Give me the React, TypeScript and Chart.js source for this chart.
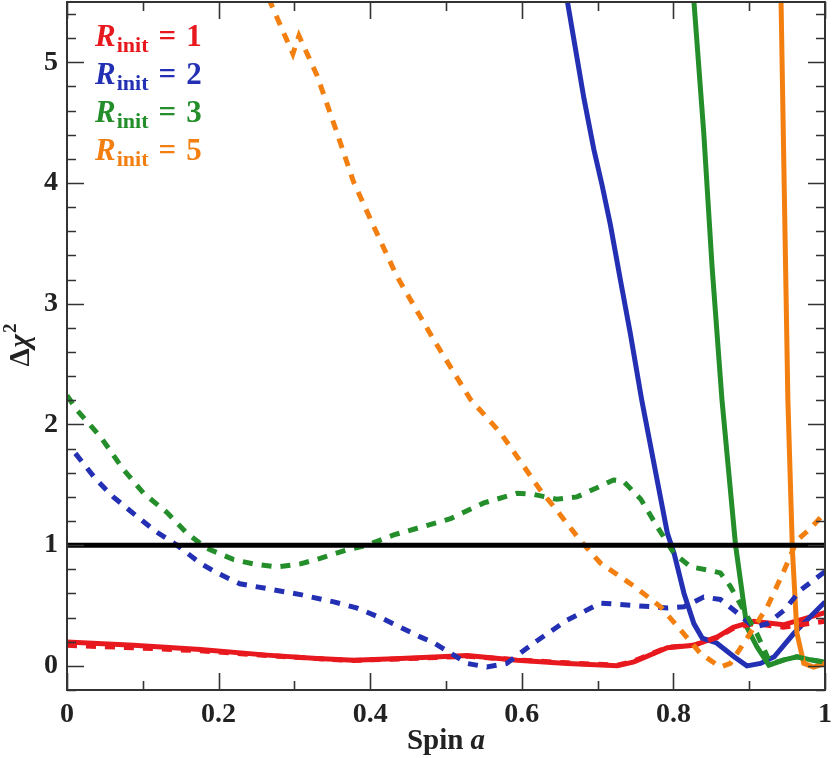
import React, { useEffect, useRef } from "react";
import { Chart, registerables } from "chart.js";

Chart.register(...registerables);

// ---- data ----
const X_TICKS = [0, 0.2, 0.4, 0.6, 0.8, 1];
const Y_TICKS = [0, 1, 2, 3, 4, 5];

const REF_X = [0, 1];
const REF_Y = [1, 1];

const R1_SOLID_X = [0, 0.088, 0.176, 0.264, 0.33, 0.378, 0.44, 0.528, 0.594, 0.66, 0.726, 0.748, 0.792, 0.827, 0.858, 0.879, 0.906, 0.945, 1.0];
const R1_SOLID_Y = [0.197, 0.17, 0.136, 0.089, 0.061, 0.047, 0.061, 0.085, 0.047, 0.02, 0.0, 0.033, 0.15, 0.17, 0.24, 0.32, 0.37, 0.34, 0.44];
const R1_DASH_X = [0, 0.088, 0.176, 0.264, 0.33, 0.378, 0.44, 0.528, 0.594, 0.66, 0.726, 0.748, 0.792, 0.827, 0.858, 0.879, 0.906, 0.945, 1.0];
const R1_DASH_Y = [0.17, 0.15, 0.125, 0.085, 0.06, 0.045, 0.058, 0.08, 0.05, 0.025, 0.005, 0.04, 0.155, 0.17, 0.235, 0.31, 0.35, 0.32, 0.37];

const R2_SOLID_X = [0.66, 0.682, 0.695, 0.706, 0.717, 0.73, 0.743, 0.758, 0.792, 0.801, 0.814, 0.827, 0.838, 0.857, 0.88, 0.897, 0.915, 0.933, 0.959, 1.0];
const R2_SOLID_Y = [5.51, 4.7, 4.28, 3.98, 3.65, 3.2, 2.76, 2.21, 1.1, 0.93, 0.6, 0.35, 0.23, 0.19, 0.075, 0.0, 0.02, 0.075, 0.27, 0.53];
const R2_DASH_X = [0.011, 0.039, 0.061, 0.092, 0.118, 0.145, 0.176, 0.198, 0.228, 0.264, 0.308, 0.352, 0.382, 0.417, 0.466, 0.484, 0.528, 0.554, 0.58, 0.616, 0.66, 0.704, 0.748, 0.792, 0.814, 0.84, 0.862, 0.884, 0.906, 0.924, 0.946, 0.968, 1.0];
const R2_DASH_Y = [1.76, 1.54, 1.4, 1.24, 1.11, 1.0, 0.85, 0.77, 0.68, 0.64, 0.59, 0.53, 0.48, 0.39, 0.24, 0.19, 0.02, -0.01, 0.02, 0.19, 0.38, 0.52, 0.5, 0.48, 0.49, 0.57, 0.55, 0.44, 0.32, 0.35, 0.46, 0.63, 0.78];

const R3_SOLID_X = [0.827, 0.84, 0.851, 0.864, 0.882, 0.897, 0.91, 0.926, 0.946, 0.963, 0.981, 1.0];
const R3_SOLID_Y = [5.51, 4.42, 3.31, 2.21, 1.0, 0.32, 0.16, 0.006, 0.05, 0.075, 0.05, 0.03];
const R3_DASH_X = [0, 0.013, 0.044, 0.074, 0.101, 0.132, 0.158, 0.184, 0.22, 0.246, 0.277, 0.308, 0.334, 0.369, 0.396, 0.431, 0.462, 0.506, 0.55, 0.594, 0.616, 0.646, 0.673, 0.704, 0.721, 0.734, 0.757, 0.779, 0.801, 0.823, 0.849, 0.862, 0.875, 0.893, 0.91, 0.924, 0.93, 0.946, 0.963, 0.981, 1.0];
const R3_DASH_Y = [2.24, 2.12, 1.9, 1.63, 1.43, 1.27, 1.1, 0.975, 0.88, 0.845, 0.82, 0.845, 0.89, 0.96, 1.0, 1.085, 1.14, 1.22, 1.35, 1.43, 1.42, 1.38, 1.4, 1.49, 1.54, 1.53, 1.38, 1.15, 0.93, 0.82, 0.79, 0.77, 0.66, 0.46, 0.27, 0.075, 0.02, 0.05, 0.075, 0.05, 0.03];

const R5_SOLID_X = [0.942, 0.951, 0.957, 0.963, 0.972, 0.985, 1.0];
const R5_SOLID_Y = [5.51, 2.21, 0.96, 0.27, 0.02, -0.01, 0.02];
const R5_DASH_X = [0.266, 0.298, 0.306, 0.33, 0.356, 0.378, 0.404, 0.435, 0.484, 0.532, 0.572, 0.624, 0.646, 0.677, 0.704, 0.748, 0.783, 0.809, 0.836, 0.862, 0.875, 0.893, 0.924, 0.946, 0.963, 0.981, 1.0];
const R5_DASH_Y = [5.53, 5.07, 5.22, 4.89, 4.42, 4.01, 3.65, 3.23, 2.7, 2.21, 1.93, 1.46, 1.29, 1.04, 0.85, 0.66, 0.49, 0.3, 0.1, -0.01, 0.02, 0.19, 0.49, 0.79, 1.04, 1.14, 1.27];

const LEGEND_LABELS = ["1", "2", "3", "5"];

const RED = "#e8191e";
const BLUE = "#2330b4";
const GREEN = "#238e2a";
const ORANGE = "#f27f10";
const LEGEND_COLORS = [RED, BLUE, GREEN, ORANGE];

const SERIF = '"Liberation Serif", "DejaVu Serif", serif';

function pts(xs: number[], ys: number[]) {
  return xs.map((x, i) => ({ x, y: ys[i] }));
}

const framePlugin = {
  id: "framePlugin",
  afterDraw(chart: any) {
    const { ctx, chartArea } = chart;
    const xs = chart.scales.x;
    const ys = chart.scales.y;
    const { left, right, top, bottom } = chartArea;
    ctx.save();
    ctx.strokeStyle = "#333";
    ctx.lineWidth = 1.6;
    const major = 17;
    const minor = 9;
    ctx.beginPath();
    for (let i = 0; i <= 10; i++) {
      const v = i / 10;
      const px = Math.round(xs.getPixelForValue(v)) + 0.5;
      const len = i % 2 === 0 ? major : minor;
      ctx.moveTo(px, bottom);
      ctx.lineTo(px, bottom - len);
      ctx.moveTo(px, top);
      ctx.lineTo(px, top + len);
    }
    for (let i = -1; i <= 27; i++) {
      const v = i / 5;
      if (v < ys.min || v > ys.max) continue;
      const py = Math.round(ys.getPixelForValue(v)) + 0.5;
      const len = i % 5 === 0 ? major : minor;
      ctx.moveTo(left, py);
      ctx.lineTo(left + len, py);
      ctx.moveTo(right, py);
      ctx.lineTo(right - len, py);
    }
    ctx.stroke();
    ctx.lineWidth = 2;
    ctx.strokeRect(left, top, right - left, bottom - top);

    // legend
    LEGEND_LABELS.forEach((lab, i) => {
      const bx = 95;
      const by = 46 + i * 38;
      ctx.fillStyle = LEGEND_COLORS[i];
      ctx.textBaseline = "alphabetic";
      ctx.textAlign = "left";
      ctx.font = `italic bold 31px ${SERIF}`;
      ctx.fillText("R", bx, by);
      let x = bx + ctx.measureText("R").width + 1;
      ctx.font = `bold 22px ${SERIF}`;
      ctx.fillText("init", x, by + 6);
      x += ctx.measureText("init").width + 10;
      ctx.font = `bold 31px ${SERIF}`;
      ctx.fillText("=", x, by);
      x += ctx.measureText("=").width + 10;
      ctx.fillText(lab, x, by);
    });

    // x title
    ctx.fillStyle = "#222";
    ctx.font = `bold 29px ${SERIF}`;
    const t1 = "Spin ";
    const w1 = ctx.measureText(t1).width;
    ctx.font = `italic bold 29px ${SERIF}`;
    const w2 = ctx.measureText("a").width;
    const cx = (left + right) / 2;
    const sx = cx - (w1 + w2) / 2;
    ctx.font = `bold 29px ${SERIF}`;
    ctx.fillText(t1, sx, 749);
    ctx.font = `italic bold 29px ${SERIF}`;
    ctx.fillText("a", sx + w1, 749);

    // y title
    ctx.translate(29, (top + bottom) / 2);
    ctx.rotate(-Math.PI / 2);
    ctx.font = `bold 29px ${SERIF}`;
    const d = "\u0394";
    const wd = ctx.measureText(d).width;
    ctx.font = `italic bold 29px ${SERIF}`;
    const wc = ctx.measureText("\u03C7").width;
    ctx.font = `bold 19px ${SERIF}`;
    const ws = ctx.measureText("2").width;
    const yx = -(wd + wc + ws) / 2;
    ctx.font = `bold 29px ${SERIF}`;
    ctx.fillText(d, yx, 0);
    ctx.font = `italic bold 29px ${SERIF}`;
    ctx.fillText("\u03C7", yx + wd + 1, 0);
    ctx.font = `bold 19px ${SERIF}`;
    ctx.fillText("2", yx + wd + wc + 2, -13);
    ctx.restore();
  },
};

function line(data: any[], color: string, dashed: boolean, width = 5) {
  return {
    data,
    borderColor: color,
    backgroundColor: color,
    borderWidth: width,
    borderDash: dashed ? [10, 9] : [],
    borderCapStyle: "butt",
    showLine: true,
    pointRadius: 0,
    fill: false,
    tension: 0,
  };
}

export default function App() {
  const ref = useRef<HTMLCanvasElement | null>(null);
  useEffect(() => {
    if (!ref.current) return;
    const chart = new Chart(ref.current, {
      type: "scatter",
      data: {
        datasets: [
          line(pts(REF_X, REF_Y), "#000", false, 5),
          line(pts(R5_DASH_X, R5_DASH_Y), ORANGE, true),
          line(pts(R3_DASH_X, R3_DASH_Y), GREEN, true),
          line(pts(R2_DASH_X, R2_DASH_Y), BLUE, true),
          line(pts(R1_DASH_X, R1_DASH_Y), RED, true),
          line(pts(R5_SOLID_X, R5_SOLID_Y), ORANGE, false),
          line(pts(R3_SOLID_X, R3_SOLID_Y), GREEN, false),
          line(pts(R2_SOLID_X, R2_SOLID_Y), BLUE, false),
          line(pts(R1_SOLID_X, R1_SOLID_Y), RED, false),
        ] as any,
      },
      options: {
        animation: false,
        responsive: false,
        layout: { padding: { top: 2, right: 7, left: 0, bottom: 0 } },
        plugins: { legend: { display: false }, tooltip: { enabled: false } },
        scales: {
          x: {
            type: "linear",
            min: 0,
            max: 1,
            afterFit: (s: any) => {
              s.height = 68;
              s.paddingLeft = 0;
              s.paddingRight = 0;
              s.paddingTop = 0;
              s.paddingBottom = 0;
            },
            afterBuildTicks: (s: any) => {
              s.ticks = X_TICKS.map((v) => ({ value: v }));
            },
            grid: { display: false, drawTicks: false },
            border: { display: false },
            ticks: {
              padding: 8,
              color: "#222",
              font: { family: SERIF, size: 28, weight: "bold" },
              callback: (v: any) => {
                const n = Number(v);
                return n === 0 || n === 1 ? String(n) : n.toFixed(1);
              },
            },
          },
          y: {
            type: "linear",
            min: -0.2,
            max: 5.5,
            afterFit: (s: any) => {
              s.width = 67;
              s.paddingLeft = 0;
              s.paddingRight = 0;
              s.paddingTop = 0;
              s.paddingBottom = 0;
            },
            afterBuildTicks: (s: any) => {
              s.ticks = Y_TICKS.map((v) => ({ value: v }));
            },
            grid: { display: false, drawTicks: false },
            border: { display: false },
            ticks: {
              padding: 9,
              color: "#222",
              font: { family: SERIF, size: 28, weight: "bold" },
              callback: (v: any) => String(v),
            },
          },
        },
      } as any,
      plugins: [framePlugin],
    });
    return () => chart.destroy();
  }, []);
  return (
    <div style={{ position: "fixed", left: 0, top: 0, width: 832, height: 758, background: "#fff" }}>
      <canvas ref={ref} width={832} height={758} />
    </div>
  );
}
